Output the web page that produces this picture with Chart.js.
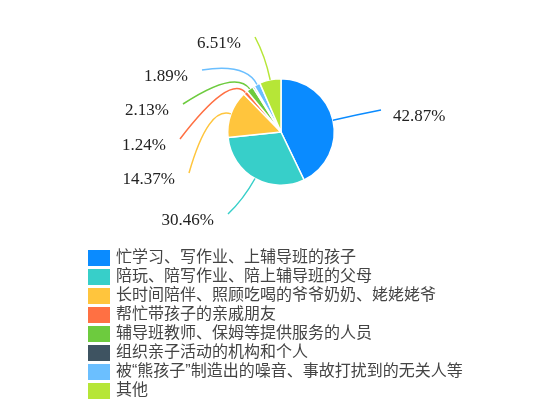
<!DOCTYPE html>
<html>
<head>
<meta charset="utf-8">
<script src="https://cdn.jsdelivr.net/npm/chart.js@4/dist/chart.umd.min.js"></script>
<style>
    html, body { margin: 0; padding: 0; background: #fff; }
    #wrap { width: 550px; height: 415px; position: relative; }
</style>
</head>
<body>
<div id="wrap"><canvas id="pie" width="550" height="415"></canvas></div>
<script>
// --- DATA ---
const categories = [
    '忙学习、写作业、上辅导班的孩子',
    '陪玩、陪写作业、陪上辅导班的父母',
    '长时间陪伴、照顾吃喝的爷爷奶奶、姥姥姥爷',
    '帮忙带孩子的亲戚朋友',
    '辅导班教师、保姆等提供服务的人员',
    '组织亲子活动的机构和个人',
    '被“熊孩子”制造出的噪音、事故打扰到的无关人等',
    '其他'
];
const shares = [42.87, 30.46, 14.37, 1.24, 2.13, 0.53, 1.89, 6.51];
const shownLabels = ['42.87%', '30.46%', '14.37%', '1.24%', '2.13%', null, '1.89%', '6.51%'];

// --- STYLE ---
const colors = ['#0a8bff', '#37cfc9', '#ffc53d', '#ff7043', '#6dcb3e', '#3e5361', '#6bbfff', '#b6e637'];
// where each leader line ends, relative to the pie centre
const labelEnds = [[100, -22], [-53, 82], [-92, 41], [-101, 7], [-98, -28], null, [-79, -62], [-26, -95]];

const leaderPlugin = {
    id: 'leaders',
    afterDatasetsDraw(chart) {
        const ctx = chart.ctx;
        const meta = chart.getDatasetMeta(0);
        ctx.save();
        meta.data.forEach((arc, i) => {
            if (!labelEnds[i]) return;
            const { x, y, startAngle, endAngle, outerRadius } = arc.getProps(['x', 'y', 'startAngle', 'endAngle', 'outerRadius'], true);
            const mid = (startAngle + endAngle) / 2;
            const dx = Math.cos(mid), dy = Math.sin(mid);
            const p0 = [x + dx * outerRadius, y + dy * outerRadius];
            const p1 = [x + dx * (outerRadius + 24), y + dy * (outerRadius + 24)];
            const end = [x + labelEnds[i][0], y + labelEnds[i][1]];
            ctx.strokeStyle = colors[i];
            ctx.lineWidth = 1.5;
            ctx.beginPath();
            ctx.moveTo(p0[0], p0[1]);
            ctx.quadraticCurveTo(p1[0], p1[1], end[0], end[1]);
            ctx.stroke();

            ctx.fillStyle = '#222';
            ctx.font = '17px "Liberation Serif", "Times New Roman", serif';
            ctx.textBaseline = 'middle';
            if (end[0] > x) {
                ctx.textAlign = 'left';
                ctx.fillText(shownLabels[i], end[0] + 12, end[1] + 7);
            } else {
                ctx.textAlign = 'right';
                ctx.fillText(shownLabels[i], end[0] - 14, end[1] + 7);
            }
        });
        ctx.restore();
    },
    afterDraw(chart) {
        // legend list under the pie
        const ctx = chart.ctx;
        ctx.save();
        ctx.font = '16px "Liberation Sans", "Noto Sans CJK SC", sans-serif';
        ctx.textBaseline = 'middle';
        ctx.textAlign = 'left';
        categories.forEach((name, i) => {
            const top = 250 + i * 19;
            ctx.fillStyle = colors[i];
            ctx.fillRect(88, top, 22, 16);
            ctx.fillStyle = '#444';
            ctx.fillText(name, 116, top + 8);
        });
        ctx.restore();
    }
};

new Chart(document.getElementById('pie'), {
    type: 'pie',
    data: {
        labels: categories,
        datasets: [{
            data: shares,
            backgroundColor: colors,
            borderColor: '#fff',
            borderWidth: 1.5
        }]
    },
    options: {
        responsive: false,
        animation: false,
        layout: { padding: { left: 227, right: 215, top: 78, bottom: 229 } },
        plugins: {
            legend: { display: false },
            tooltip: { enabled: false }
        }
    },
    plugins: [leaderPlugin]
});
</script>
</body>
</html>
